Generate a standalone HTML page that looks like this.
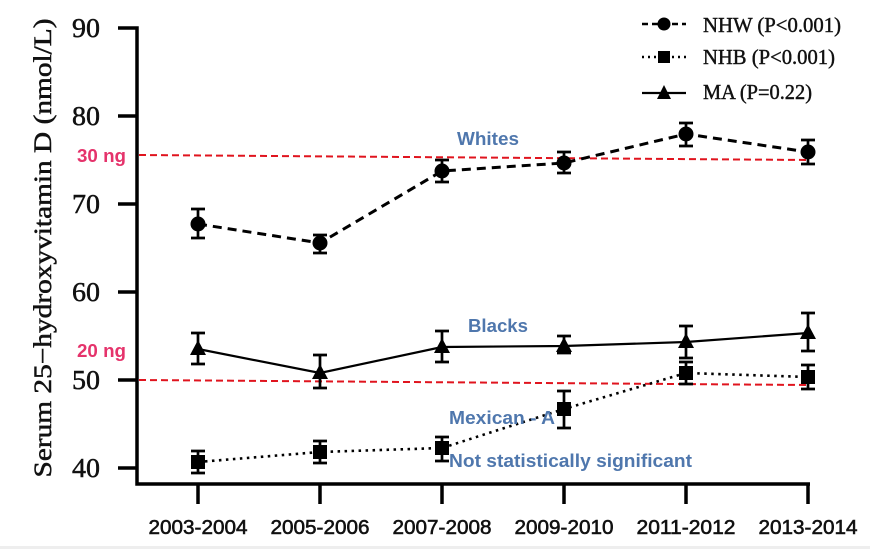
<!DOCTYPE html>
<html><head><meta charset="utf-8"><style>
html,body{margin:0;padding:0;background:#fff;}
svg{display:block;}
</style></head><body>
<svg width="870" height="549" viewBox="0 0 870 549" xmlns="http://www.w3.org/2000/svg">
<rect x="0" y="0" width="870" height="549" fill="#fff"/>
<rect x="0" y="546" width="870" height="3" fill="#eeeeee"/>

<!-- Y axis label -->
<text transform="translate(51,248) rotate(-90)" text-anchor="middle" font-family="Liberation Serif, serif" font-size="25" fill="#111" stroke="#111" stroke-width="0.5" textLength="459" lengthAdjust="spacingAndGlyphs">Serum 25−hydroxyvitamin D (nmol/L)</text>

<!-- axes -->
<g stroke="#000" stroke-width="3.5" fill="none" stroke-linecap="butt">
<path d="M118,28 H137 V484 H810"/>
<path d="M118,116 H137 M118,204 H137 M118,292 H137 M118,380 H137 M118,468 H137"/>
<path d="M198,484 V504 M320,484 V504 M442,484 V504 M564,484 V504 M686,484 V504 M808,484 V504"/>
</g>

<!-- y tick labels -->
<g font-family="Liberation Serif, serif" font-size="27" fill="#111" stroke="#111" stroke-width="0.5" text-anchor="end">
<text x="100" y="37" textLength="28" lengthAdjust="spacingAndGlyphs">90</text>
<text x="100" y="125" textLength="28" lengthAdjust="spacingAndGlyphs">80</text>
<text x="100" y="213" textLength="28" lengthAdjust="spacingAndGlyphs">70</text>
<text x="100" y="301" textLength="28" lengthAdjust="spacingAndGlyphs">60</text>
<text x="100" y="389" textLength="28" lengthAdjust="spacingAndGlyphs">50</text>
<text x="100" y="477" textLength="28" lengthAdjust="spacingAndGlyphs">40</text>
</g>

<!-- x tick labels -->
<g font-family="Liberation Sans, sans-serif" font-size="20.5" fill="#111" stroke="#111" stroke-width="0.6" text-anchor="middle">
<text x="198" y="534" textLength="99" lengthAdjust="spacingAndGlyphs">2003-2004</text>
<text x="320" y="534" textLength="99" lengthAdjust="spacingAndGlyphs">2005-2006</text>
<text x="442" y="534" textLength="99" lengthAdjust="spacingAndGlyphs">2007-2008</text>
<text x="564" y="534" textLength="99" lengthAdjust="spacingAndGlyphs">2009-2010</text>
<text x="686" y="534" textLength="99" lengthAdjust="spacingAndGlyphs">2011-2012</text>
<text x="808" y="534" textLength="99" lengthAdjust="spacingAndGlyphs">2013-2014</text>
</g>

<!-- red reference lines -->
<g stroke="#e0141e" stroke-width="2" stroke-dasharray="7,4" fill="none">
<line x1="139" y1="155" x2="808" y2="160"/>
<line x1="139" y1="380" x2="808" y2="385"/>
</g>
<g font-family="Liberation Sans, sans-serif" font-weight="bold" font-size="18" fill="#e5336b">
<text x="77" y="162" textLength="49" lengthAdjust="spacingAndGlyphs">30 ng</text>
<text x="77" y="357" textLength="49" lengthAdjust="spacingAndGlyphs">20 ng</text>
</g>

<!-- NHW series -->
<polyline points="198,224 320,243 442,171 564,163 686,134 808,152" fill="none" stroke="#000" stroke-width="3" stroke-dasharray="9,6"/>
<g stroke="#000" stroke-width="2.7" fill="none">
<path d="M198,209 V238 M191,209 H205 M191,238 H205"/>
<path d="M320,235 V253 M313,235 H327 M313,253 H327"/>
<path d="M442,160 V182 M435,160 H449 M435,182 H449"/>
<path d="M564,152 V173 M557,152 H571 M557,173 H571"/>
<path d="M686,123 V146 M679,123 H693 M679,146 H693"/>
<path d="M808,140 V164 M801,140 H815 M801,164 H815"/>
</g>
<g fill="#000">
<circle cx="198" cy="224" r="7.5"/>
<circle cx="320" cy="243" r="7.5"/>
<circle cx="442" cy="171" r="7.5"/>
<circle cx="564" cy="163" r="7.5"/>
<circle cx="686" cy="134" r="7.5"/>
<circle cx="808" cy="152" r="7.5"/>
</g>

<!-- MA series -->
<polyline points="198,349 320,373 442,347 564,346 686,342 808,333" fill="none" stroke="#000" stroke-width="2.2"/>
<g stroke="#000" stroke-width="2.7" fill="none">
<path d="M198,333 V364 M191,333 H205 M191,364 H205"/>
<path d="M320,355 V388 M313,355 H327 M313,388 H327"/>
<path d="M442,331 V362 M435,331 H449 M435,362 H449"/>
<path d="M564,336 V353 M557,336 H571 M557,353 H571"/>
<path d="M686,326 V358 M679,326 H693 M679,358 H693"/>
<path d="M808,313 V351 M801,313 H815 M801,351 H815"/>
</g>
<g fill="#000">
<polygon points="198,340 206,355 190,355"/>
<polygon points="320,364 328,379 312,379"/>
<polygon points="442,338 450,353 434,353"/>
<polygon points="564,337 572,352 556,352"/>
<polygon points="686,333 694,348 678,348"/>
<polygon points="808,324 816,339 800,339"/>
</g>

<!-- NHB series -->
<polyline points="198,462 320,452 442,448 564,409 686,373 808,377" fill="none" stroke="#000" stroke-width="2.6" stroke-dasharray="2.5,4.5"/>
<g stroke="#000" stroke-width="2.7" fill="none">
<path d="M198,451 V473 M191,451 H205 M191,473 H205"/>
<path d="M320,441 V463 M313,441 H327 M313,463 H327"/>
<path d="M442,437 V461 M435,437 H449 M435,461 H449"/>
<path d="M564,391 V428 M557,391 H571 M557,428 H571"/>
<path d="M686,362 V384 M679,362 H693 M679,384 H693"/>
<path d="M808,365 V389 M801,365 H815 M801,389 H815"/>
</g>
<g fill="#000">
<rect x="191" y="455" width="14" height="14"/>
<rect x="313" y="445" width="14" height="14"/>
<rect x="435" y="441" width="14" height="14"/>
<rect x="557" y="402" width="14" height="14"/>
<rect x="679" y="366" width="14" height="14"/>
<rect x="801" y="370" width="14" height="14"/>
</g>

<!-- annotation labels -->
<g font-family="Liberation Sans, sans-serif" font-weight="bold" font-size="18.5" fill="#4f77ad">
<text x="457" y="145" textLength="62" lengthAdjust="spacingAndGlyphs">Whites</text>
<text x="468" y="332" textLength="60" lengthAdjust="spacingAndGlyphs">Blacks</text>
<text x="449" y="424" textLength="106" lengthAdjust="spacingAndGlyphs">Mexican - A</text>
<text x="449" y="467" textLength="243" lengthAdjust="spacingAndGlyphs">Not statistically significant</text>
</g>

<!-- legend -->
<line x1="642" y1="24" x2="686" y2="24" stroke="#000" stroke-width="2.5" stroke-dasharray="6,4"/>
<circle cx="664" cy="24" r="6.5" fill="#000"/>
<line x1="642" y1="57" x2="686" y2="57" stroke="#000" stroke-width="2.5" stroke-dasharray="2,4"/>
<rect x="658" y="51" width="12" height="12" fill="#000"/>
<line x1="642" y1="93" x2="686" y2="93" stroke="#000" stroke-width="2.2"/>
<polygon points="664,85 671,99 657,99" fill="#000"/>
<g font-family="Liberation Serif, serif" font-size="21.5" fill="#111" stroke="#111" stroke-width="0.45">
<text x="703" y="32" textLength="138" lengthAdjust="spacingAndGlyphs">NHW (P&lt;0.001)</text>
<text x="703" y="64" textLength="132" lengthAdjust="spacingAndGlyphs">NHB (P&lt;0.001)</text>
<text x="703" y="99" textLength="109" lengthAdjust="spacingAndGlyphs">MA (P=0.22)</text>
</g>
</svg>
</body></html>
